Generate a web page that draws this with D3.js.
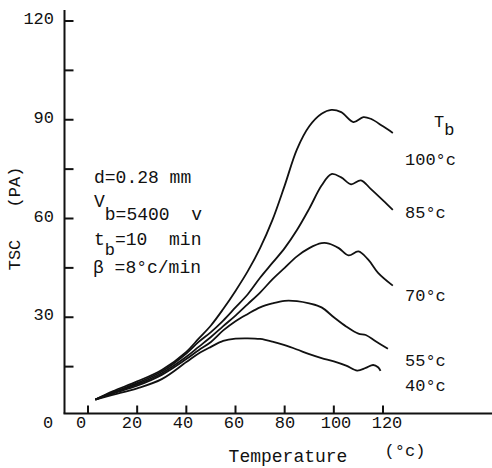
<!DOCTYPE html>
<html>
<head>
<meta charset="utf-8">
<script src="https://cdn.jsdelivr.net/npm/d3@7"></script>
<style>
  body { margin: 0; background: #fff; }
  svg text { font-family: "Liberation Mono", "DejaVu Sans Mono", monospace; fill: #111; }
</style>
</head>
<body>
<svg id="drawing_region"></svg>
<script>
// Tb (bias temperature) categories and TSC curves [temperature, TSC]
const tbLabels = ["100°c", "85°c", "70°c", "55°c", "40°c"];

const tsc100 = [[3,5],[10,7.5],[20,10.5],[30,14],[40,19.5],[45,23.5],[50,27.5],[55,32.5],[60,38],[65,44],[70,51],[75,59.5],[80,70],[85,81],[90,88],[95,91.8],[99,93],[103,92.3],[108,89.3],[112,90.8],[115,90.3],[120,88],[124,86]];
const tsc85  = [[3,5],[10,7.2],[20,10],[30,13.5],[40,19],[45,22.5],[50,25.5],[55,29],[60,33],[65,37],[70,42],[75,46.5],[80,51],[85,56.5],[90,63],[95,70],[99,73.5],[103,72.5],[107,70.4],[111,71.6],[115,69],[120,65.5],[124,62.6]];
const tsc70  = [[3,5],[10,7],[20,9.6],[30,13],[40,18],[45,21],[50,24],[55,27.3],[60,30.5],[65,34],[70,37.5],[75,41.5],[80,45],[85,48.5],[90,51],[95,52.5],[98,52.4],[102,51],[106,48.8],[110,50],[114,47.5],[118,43.5],[124,39.6]];
const tsc55  = [[3,5],[10,6.8],[20,9.2],[30,12.5],[40,17.3],[45,20],[50,22.5],[55,26],[60,28.8],[65,31],[70,33],[75,34.2],[80,35],[85,34.9],[90,34.2],[95,33],[100,30],[105,27.2],[110,25],[113,24.6],[117,22.7],[122,20.4]];
const tsc40  = [[3,5],[10,6.4],[20,8.4],[30,11.2],[40,16.4],[45,19],[50,21],[55,22.8],[60,23.5],[65,23.6],[70,23.4],[75,22.6],[80,21.5],[85,20.2],[90,18.8],[95,17.6],[100,16.6],[105,15.3],[109.5,13.8],[113,14.6],[116,15.5],[118,14.8],[119,13.7]];

const series = [tsc100, tsc85, tsc70, tsc55, tsc40];

const xTicks = [0, 20, 40, 60, 80, 100, 120];
const yTicks = [15, 30, 45, 60, 75, 90, 105, 120];
const yTickLabels = [30, 60, 90, 120];

const config = {
    width: 492,
    height: 468,
    axisX: 64.5,     // position of the vertical axis line
    axisY: 413.5,    // position of the horizontal axis line
    fontSize: 17,
    noteSize: 18
};

const svg = d3.select('#drawing_region')
    .attr('width', config.width)
    .attr('height', config.height);

const xscale = d3.scaleLinear().domain([0, 120]).range([88, 383]);
const xlabelscale = d3.scaleLinear().domain([0, 120]).range([81, 387]);
const yscale = d3.scaleLinear().domain([0, 120]).range([416, 21]);

// axis lines
svg.append('line')
    .attr('x1', config.axisX).attr('x2', config.axisX)
    .attr('y1', 10).attr('y2', config.axisY)
    .attr('stroke', '#111').attr('stroke-width', 2);

svg.append('line')
    .attr('x1', config.axisX - 1).attr('x2', config.width)
    .attr('y1', config.axisY).attr('y2', config.axisY)
    .attr('stroke', '#111').attr('stroke-width', 2);

// y ticks, pointing inward
svg.selectAll('.ytick')
    .data(yTicks)
    .enter()
    .append('line')
    .attr('x1', config.axisX).attr('x2', config.axisX + 9)
    .attr('y1', d => yscale(d)).attr('y2', d => yscale(d))
    .attr('stroke', '#111').attr('stroke-width', 2);

svg.selectAll('.ylabel')
    .data(yTickLabels)
    .enter()
    .append('text')
    .attr('x', 54)
    .attr('y', d => yscale(d) + 3)
    .attr('text-anchor', 'end')
    .attr('font-size', config.fontSize)
    .text(d => d);

svg.append('text')
    .attr('x', 48).attr('y', yscale(0) + 12)
    .attr('text-anchor', 'middle')
    .attr('font-size', config.fontSize)
    .text('0');

// x ticks, pointing inward
svg.selectAll('.xtick')
    .data(xTicks)
    .enter()
    .append('line')
    .attr('x1', d => xscale(d)).attr('x2', d => xscale(d))
    .attr('y1', config.axisY).attr('y2', config.axisY - 8)
    .attr('stroke', '#111').attr('stroke-width', 2);

svg.selectAll('.xlabel')
    .data(xTicks)
    .enter()
    .append('text')
    .attr('x', d => xlabelscale(d))
    .attr('y', 428)
    .attr('text-anchor', 'middle')
    .attr('font-size', config.fontSize)
    .text(d => d);

// curves
const line = d3.line()
    .x(d => xscale(d[0]))
    .y(d => yscale(d[1]))
    .curve(d3.curveCatmullRom.alpha(0.5));

svg.selectAll('.curve')
    .data(series)
    .enter()
    .append('path')
    .attr('d', line)
    .attr('fill', 'none')
    .attr('stroke', '#111')
    .attr('stroke-width', 1.8);

// Tb labels on the right
const labelBaselines = [165, 218, 301, 366, 391];
svg.selectAll('.tblabel')
    .data(tbLabels)
    .enter()
    .append('text')
    .attr('x', 405)
    .attr('y', (d, i) => labelBaselines[i])
    .attr('font-size', config.fontSize)
    .text(d => d);

const tb = svg.append('text').attr('x', 434).attr('y', 127).attr('font-size', config.fontSize);
tb.append('tspan').text('T');
tb.append('tspan').attr('dy', 8).text('b');

// conditions
svg.append('text')
    .attr('x', 94).attr('y', 183)
    .attr('font-size', config.noteSize)
    .attr('xml:space', 'preserve')
    .text('d=0.28 mm');

const vb = svg.append('text')
    .attr('x', 94).attr('y', 207)
    .attr('font-size', config.noteSize)
    .attr('xml:space', 'preserve');
vb.append('tspan').text('V');
vb.append('tspan').attr('dy', 13).text('b=5400  v');

const tbn = svg.append('text')
    .attr('x', 94).attr('y', 245)
    .attr('font-size', config.noteSize)
    .attr('xml:space', 'preserve');
tbn.append('tspan').text('t');
tbn.append('tspan').attr('dy', 10).attr('font-size', 17).text('b');
tbn.append('tspan').attr('dy', -10).text('=10  min');

svg.append('text')
    .attr('x', 93).attr('y', 273)
    .attr('font-size', config.noteSize)
    .attr('xml:space', 'preserve')
    .text('β =8°c/min');

// axis titles
svg.append('text')
    .attr('transform', 'translate(20,187) rotate(-90)')
    .attr('text-anchor', 'middle')
    .attr('font-size', config.fontSize)
    .text('(PA)');

svg.append('text')
    .attr('transform', 'translate(20,255) rotate(-90)')
    .attr('text-anchor', 'middle')
    .attr('font-size', config.fontSize)
    .text('TSC');

svg.append('text')
    .attr('x', 288).attr('y', 462)
    .attr('text-anchor', 'middle')
    .attr('font-size', config.noteSize)
    .text('Temperature');

svg.append('text')
    .attr('x', 405).attr('y', 456)
    .attr('text-anchor', 'middle')
    .attr('font-size', config.fontSize)
    .text('(°c)');
</script>
</body>
</html>
